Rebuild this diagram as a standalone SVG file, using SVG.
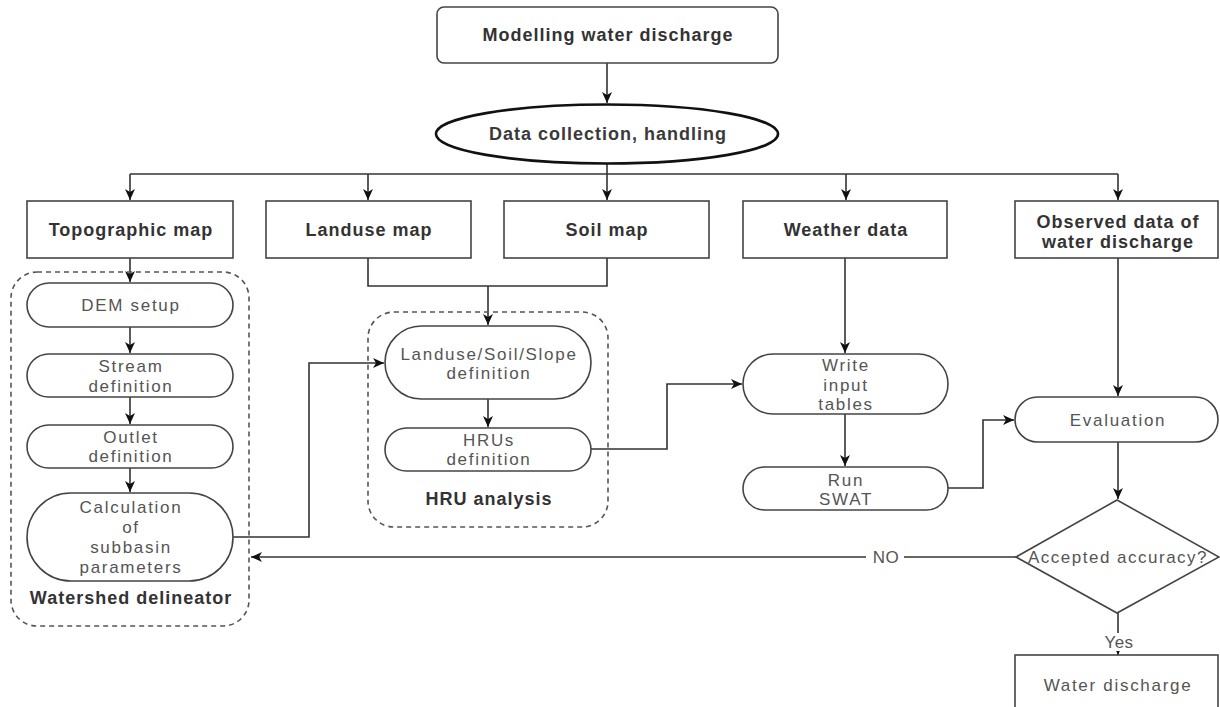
<svg xmlns="http://www.w3.org/2000/svg" width="1220" height="707" viewBox="0 0 1220 707">
<defs>
<marker id="arr" markerUnits="userSpaceOnUse" markerWidth="12" markerHeight="12" viewBox="0 0 12 12" refX="11" refY="6" orient="auto">
<path d="M0,1 L11,6 L0,11 L3,6 Z" fill="#111"/>
</marker>
<style>
.box{fill:#fff;stroke:#444;stroke-width:1.6}
.grp{fill:none;stroke:#555;stroke-width:1.6;stroke-dasharray:5,4}
.ln{fill:none;stroke:#333;stroke-width:1.6}
.b{font-family:"Liberation Sans",Arial,sans-serif;font-weight:bold;font-size:18px;letter-spacing:1px;fill:#333;text-anchor:middle}
.r{font-family:"Liberation Sans",Arial,sans-serif;font-size:17px;letter-spacing:1.7px;fill:#555;text-anchor:middle}
</style>
</defs>
<rect width="1220" height="707" fill="#fff"/>

<g id="connectors">
<path class="ln" d="M607,63 V103" marker-end="url(#arr)"/>
<path class="ln" d="M607,164 V200" marker-end="url(#arr)"/>
<path class="ln" d="M130,174 H1118"/>
<path class="ln" d="M130,174 V200" marker-end="url(#arr)"/>
<path class="ln" d="M368,174 V200" marker-end="url(#arr)"/>
<path class="ln" d="M846,174 V200" marker-end="url(#arr)"/>
<path class="ln" d="M1118,174 V200" marker-end="url(#arr)"/>
<path class="ln" d="M368,258 V286 H607 V258"/>
<path class="ln" d="M488,286 V325" marker-end="url(#arr)"/>
<path class="ln" d="M130,258 V282" marker-end="url(#arr)"/>
<path class="ln" d="M130,327 V353" marker-end="url(#arr)"/>
<path class="ln" d="M130,397 V424" marker-end="url(#arr)"/>
<path class="ln" d="M130,468 V492" marker-end="url(#arr)"/>
<path class="ln" d="M233,537 H309 V363 H384" marker-end="url(#arr)"/>
<path class="ln" d="M488,399 V427" marker-end="url(#arr)"/>
<path class="ln" d="M591,449 H667 V384 H742" marker-end="url(#arr)"/>
<path class="ln" d="M845,258 V353" marker-end="url(#arr)"/>
<path class="ln" d="M845,414 V466" marker-end="url(#arr)"/>
<path class="ln" d="M948,488 H983 V420 H1014" marker-end="url(#arr)"/>
<path class="ln" d="M1118,258 V396" marker-end="url(#arr)"/>
<path class="ln" d="M1118,442 V499" marker-end="url(#arr)"/>
<path class="ln" d="M1016,557 H251" marker-end="url(#arr)"/>
<path class="ln" d="M1118,613 V655" marker-end="url(#arr)"/>
<rect x="866" y="548" width="38" height="18" fill="#fff"/>
<text class="r" x="886" y="563" style="letter-spacing:0.5px">NO</text>
<rect x="1100" y="633" width="36" height="18" fill="#fff"/>
<text class="r" x="1119" y="648" style="letter-spacing:0.5px">Yes</text>
</g>

<g id="top">
<rect class="box" x="437" y="7" width="341" height="56" rx="7"/>
<text class="b" x="608" y="41">Modelling water discharge</text>
</g>
<g id="data">
<ellipse cx="607" cy="134" rx="171" ry="29.5" fill="#fff" stroke="#111" stroke-width="2.6"/>
<text class="b" x="608" y="140" style="fill:#3a3a3a">Data collection, handling</text>
</g>

<g id="topo">
<rect class="box" x="27" y="201" width="206" height="57"/>
<text class="b" x="131" y="236">Topographic map</text>
</g>
<g id="landuse">
<rect class="box" x="266" y="201" width="205" height="57"/>
<text class="b" x="369" y="236">Landuse map</text>
</g>
<g id="soil">
<rect class="box" x="504" y="201" width="205" height="57"/>
<text class="b" x="607" y="236">Soil map</text>
</g>
<g id="weather">
<rect class="box" x="743" y="201" width="204" height="57"/>
<text class="b" x="846" y="236">Weather data</text>
</g>
<g id="observed">
<rect class="box" x="1015" y="201" width="203" height="57"/>
<text class="b" x="1118" y="228">Observed data of</text>
<text class="b" x="1118" y="248">water discharge</text>
</g>

<g id="watershed">
<rect class="grp" x="11" y="272" width="238" height="354" rx="26"/>
<text class="b" x="131" y="604">Watershed delineator</text>
</g>
<g id="dem">
<rect class="box" x="27" y="283" width="206" height="44" rx="22"/>
<text class="r" x="131" y="311">DEM setup</text>
</g>
<g id="stream">
<rect class="box" x="27" y="354" width="206" height="43" rx="21.5"/>
<text class="r" x="131" y="372">Stream</text>
<text class="r" x="131" y="392">definition</text>
</g>
<g id="outlet">
<rect class="box" x="27" y="425" width="206" height="43" rx="21.5"/>
<text class="r" x="131" y="443">Outlet</text>
<text class="r" x="131" y="462">definition</text>
</g>
<g id="calc">
<rect class="box" x="27" y="493" width="206" height="88" rx="44"/>
<text class="r" x="131" y="513">Calculation</text>
<text class="r" x="131" y="533">of</text>
<text class="r" x="131" y="553">subbasin</text>
<text class="r" x="131" y="573">parameters</text>
</g>

<g id="hru">
<rect class="grp" x="368" y="312" width="240" height="215" rx="26"/>
<text class="b" x="489" y="505">HRU analysis</text>
</g>
<g id="lss">
<rect class="box" x="385" y="326" width="206" height="73" rx="36.5"/>
<text class="r" x="489" y="360">Landuse/Soil/Slope</text>
<text class="r" x="489" y="379">definition</text>
</g>
<g id="hrus">
<rect class="box" x="385" y="428" width="206" height="43" rx="21.5"/>
<text class="r" x="489" y="446">HRUs</text>
<text class="r" x="489" y="465">definition</text>
</g>

<g id="write">
<rect class="box" x="743" y="354" width="205" height="60" rx="30"/>
<text class="r" x="846" y="371">Write</text>
<text class="r" x="846" y="391">input</text>
<text class="r" x="846" y="410">tables</text>
</g>
<g id="run">
<rect class="box" x="743" y="467" width="205" height="43" rx="21.5"/>
<text class="r" x="846" y="486">Run</text>
<text class="r" x="846" y="505">SWAT</text>
</g>
<g id="evaluation">
<rect class="box" x="1015" y="397" width="203" height="45" rx="22.5"/>
<text class="r" x="1118" y="426">Evaluation</text>
</g>
<g id="decision">
<polygon class="box" points="1117,500 1219,557 1117,613 1016,557"/>
<text class="r" x="1118" y="563" style="letter-spacing:1.5px">Accepted accuracy?</text>
</g>
<g id="result">
<rect class="box" x="1015" y="655" width="203" height="70"/>
<text class="r" x="1118" y="691">Water discharge</text>
</g>
</svg>
